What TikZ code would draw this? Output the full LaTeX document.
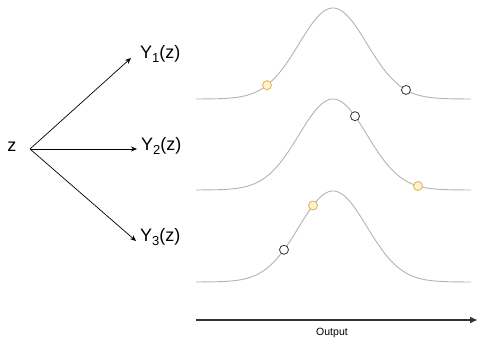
\documentclass[tikz,border=0pt]{standalone}
\usepackage{fontspec}
\setmainfont{Liberation Sans}
\usetikzlibrary{arrows.meta}
\definecolor{curvegray}{HTML}{B3B3B3}
\definecolor{yfill}{HTML}{FFF2CC}
\definecolor{ystroke}{HTML}{D6B656}
\definecolor{dark}{HTML}{333333}
\newcommand{\subnum}[1]{\raisebox{-4pt}{\fontsize{13}{13}\selectfont #1}}
\begin{document}
\begin{tikzpicture}[x=1pt,y=-1pt,
  curve/.style={curvegray, line width=0.9pt},
  ydot/.style={circle, draw=ystroke, fill=yfill, line width=0.8pt, minimum size=9pt, inner sep=0pt},
  kdot/.style={circle, draw=dark, fill=white, line width=0.8pt, minimum size=9pt, inner sep=0pt},
  lbl/.style={font=\fontsize{18}{20}\selectfont, inner sep=0pt},
  conn/.style={black, line width=0.7pt, -{Stealth[length=6pt,width=5pt]}},
  declare function={g(\x)=exp(-0.5*((\x-333)/34)^2);}
]
\useasboundingbox (0,0) rectangle (477,338);
% left part
\node[lbl, anchor=base] (z) at (12,151) {z};
\coordinate (zs) at (30,149);
\node[lbl, anchor=base west] (Y1) at (140,58) {Y\subnum{1}(z)};
\node[lbl, anchor=base west] (Y2) at (141,150) {Y\subnum{2}(z)};
\node[lbl, anchor=base west] (Y3) at (140,241) {Y\subnum{3}(z)};
\coordinate (e1) at (131,58);
\coordinate (e2) at (137,149);
\coordinate (e3) at (136,241);
\draw[conn] (zs) -- (e1);
\draw[conn] (zs) -- (e2);
\draw[conn] (zs) -- (e3);
% curves
\draw[curve] plot[domain=196:471, samples=160, smooth] (\x, {99-91*g(\x)});
\draw[curve] plot[domain=196:471, samples=160, smooth] (\x, {190-91*g(\x)});
\draw[curve] plot[domain=196:471, samples=160, smooth] (\x, {282-91*g(\x)});
% dots
\node[ydot] (p1a) at (267, {99-91*g(267)}) {};
\node[kdot] (p1b) at (406, {99-91*g(406)}) {};
\node[kdot] (p2a) at (355, {190-91*g(355)}) {};
\node[ydot] (p2b) at (418, {190-91*g(418)}) {};
\node[ydot] (p3a) at (313, {282-91*g(313)}) {};
\node[kdot] (p3b) at (284, {282-91*g(284)}) {};
% axis
\coordinate (ax0) at (196,320);
\coordinate (ax1) at (477,320);
\draw[dark, line width=1.3pt, -{Triangle[length=7pt,width=6pt]}] (ax0) -- (ax1);
\node[font=\fontsize{10.5}{12}\selectfont, inner sep=0pt] (out) at (332,333) {Output};
\end{tikzpicture}
\end{document}
